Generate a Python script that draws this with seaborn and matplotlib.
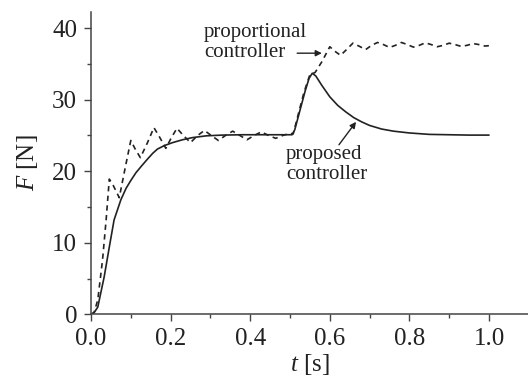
import numpy as np
import pandas as pd
import matplotlib
matplotlib.use("Agg")
import matplotlib.pyplot as plt
from matplotlib.ticker import MultipleLocator
import seaborn as sns

# Proposed controller response
t_proposed = [0.0, 0.005, 0.017, 0.033, 0.046, 0.058, 0.075, 0.088, 0.10, 0.113,
              0.128, 0.142, 0.155, 0.167, 0.185, 0.205, 0.23, 0.255, 0.29, 0.33,
              0.38, 0.43, 0.48, 0.505, 0.512, 0.525, 0.538, 0.548, 0.556, 0.565,
              0.58, 0.60, 0.62, 0.64, 0.66, 0.68, 0.70, 0.73, 0.76, 0.80, 0.85,
              0.90, 0.95, 1.0]
f_proposed = [0.0, 0.0, 1.0, 5.2, 9.4, 13.2, 16.0, 17.6, 18.7, 19.8,
              20.8, 21.7, 22.5, 23.1, 23.6, 24.0, 24.4, 24.7, 24.95, 25.05,
              25.1, 25.1, 25.1, 25.1, 25.8, 28.5, 31.2, 33.0, 33.7, 33.3,
              32.0, 30.4, 29.2, 28.3, 27.5, 26.9, 26.4, 25.9, 25.6, 25.35, 25.15,
              25.1, 25.05, 25.05]

# Proportional controller response
t_proportional = [0.0, 0.008, 0.017, 0.029, 0.038, 0.046, 0.056, 0.071, 0.086, 0.10,
                  0.112, 0.124, 0.142, 0.158, 0.172, 0.188, 0.203, 0.216, 0.232, 0.25,
                  0.268, 0.285, 0.302, 0.32, 0.338, 0.356, 0.374, 0.392, 0.41, 0.428,
                  0.446, 0.464, 0.482, 0.5, 0.508, 0.52, 0.535, 0.55, 0.563, 0.58,
                  0.60, 0.612, 0.627, 0.642, 0.658, 0.673, 0.69, 0.705, 0.72, 0.735,
                  0.75, 0.765, 0.78, 0.795, 0.81, 0.825, 0.84, 0.855, 0.87, 0.885,
                  0.90, 0.915, 0.93, 0.945, 0.96, 0.975, 0.99, 1.0]
f_proportional = [0.0, 0.3, 2.0, 7.6, 13.2, 18.9, 18.0, 16.3, 20.5, 24.3,
                  23.0, 21.9, 24.0, 26.1, 24.8, 23.2, 24.8, 26.0, 25.0, 24.0,
                  25.0, 25.7, 25.0, 24.3, 25.0, 25.6, 25.0, 24.4, 25.0, 25.5,
                  25.0, 24.6, 25.0, 25.3, 25.2, 27.8, 31.0, 33.5, 33.8, 35.3,
                  37.4, 36.8, 36.2, 37.0, 37.9, 37.5, 37.0, 37.6, 38.0, 37.7,
                  37.3, 37.6, 38.0, 37.7, 37.35, 37.6, 37.95, 37.7, 37.4, 37.6,
                  37.9, 37.7, 37.45, 37.6, 37.85, 37.7, 37.5, 37.55]

x_ticks = [0.0, 0.2, 0.4, 0.6, 0.8, 1.0]
y_ticks = [0, 10, 20, 30, 40]

sns.set_style("ticks")
plt.rcParams["font.family"] = ["Liberation Serif", "DejaVu Serif"]
plt.rcParams["mathtext.fontset"] = "custom"
plt.rcParams["mathtext.rm"] = "Liberation Serif"
plt.rcParams["mathtext.it"] = "Liberation Serif:italic"

ink = "#222222"
fig = plt.figure(figsize=(5.28, 3.80), dpi=100)
ax = fig.add_axes([91 / 528, 65.7 / 380, 437.8 / 528, 302.6 / 380])

df_prop = pd.DataFrame({"t": t_proposed, "F": f_proposed})
df_pc = pd.DataFrame({"t": t_proportional, "F": f_proportional})

sns.lineplot(data=df_pc, x="t", y="F", ax=ax, color=ink, lw=1.2,
             linestyle=(0, (3.2, 2.6)), estimator=None, sort=False)
sns.lineplot(data=df_prop, x="t", y="F", ax=ax, color=ink, lw=1.2,
             estimator=None, sort=False)

ax.set_xlim(0, 1.1)
ax.set_ylim(0, 42.3)
ax.set_xticks(x_ticks)
ax.set_xticklabels([f"{v:.1f}" for v in x_ticks])
ax.set_yticks(y_ticks)
ax.set_yticklabels([str(v) for v in y_ticks])
ax.xaxis.set_minor_locator(MultipleLocator(0.1))
ax.yaxis.set_minor_locator(MultipleLocator(5))
ax.tick_params(which="major", direction="out", length=5, width=1, color="#444444",
               labelsize=18, labelcolor=ink, pad=5)
ax.tick_params(which="minor", direction="out", length=3, width=1, color="#444444")
for side in ("top", "right"):
    ax.spines[side].set_visible(False)
for side in ("left", "bottom"):
    ax.spines[side].set_color("#444444")
    ax.spines[side].set_linewidth(1.1)

ax.set_xlabel(r"$t$ [s]", fontsize=18, color=ink, labelpad=1)
ax.set_ylabel(r"$F$ [N]", fontsize=18, color=ink, labelpad=9)

# Annotations
ax.text(0.284, 38.0, "proportional\ncontroller", fontsize=15, color=ink,
        ha="left", va="center", linespacing=1.05)
ax.annotate("", xy=(0.580, 36.5), xytext=(0.518, 36.5),
            arrowprops=dict(arrowstyle="-|>", lw=1.0, color=ink, mutation_scale=9,
                            shrinkA=0, shrinkB=0))
ax.text(0.49, 20.9, "proposed\ncontroller", fontsize=15, color=ink,
        ha="left", va="center", linespacing=1.05)
ax.annotate("", xy=(0.666, 26.9), xytext=(0.623, 23.7),
            arrowprops=dict(arrowstyle="-|>", lw=1.0, color=ink, mutation_scale=9,
                            shrinkA=0, shrinkB=0))

fig.savefig("out.png", dpi=100)
